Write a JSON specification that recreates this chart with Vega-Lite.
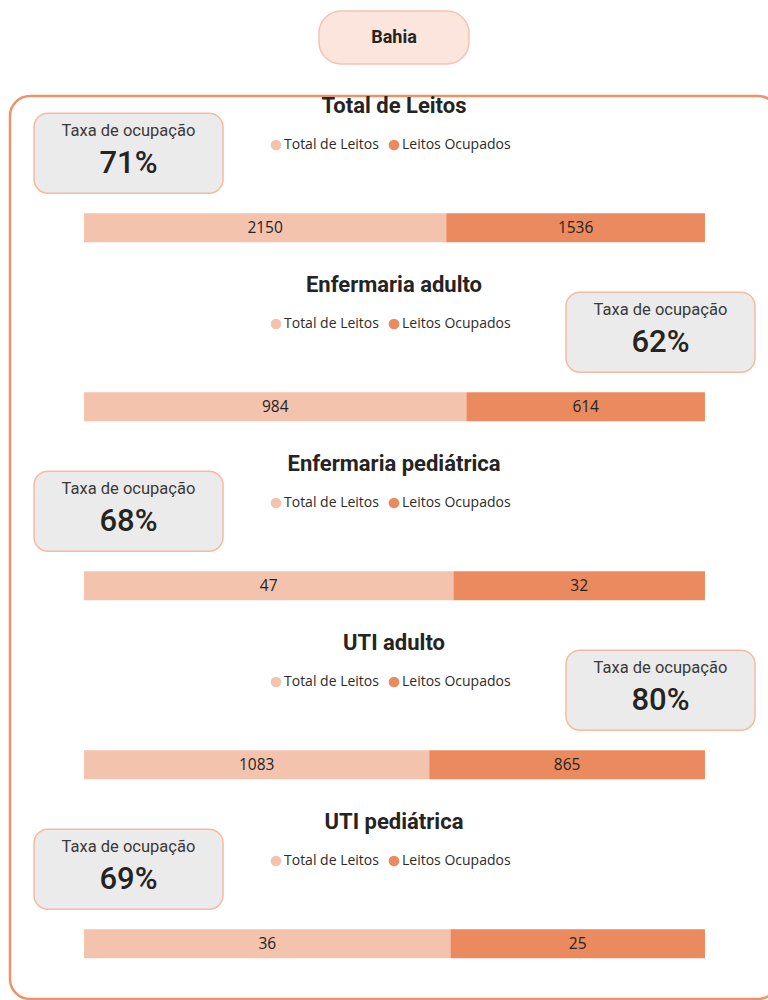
{
  "$schema": "https://vega.github.io/schema/vega-lite/v6.json",
  "padding": {"left": 8, "top": 10, "right": 0, "bottom": 0},
  "background": "white",
  "config": {"font": "Roboto", "view": {"stroke": null}},
  "spacing": 32,
  "center": true,
  "bounds": "flush",
  "datasets": {
    "leitos": [
      {"secao": "Total de Leitos", "serie": "Total de Leitos", "valor": 2150},
      {"secao": "Total de Leitos", "serie": "Leitos Ocupados", "valor": 1536},
      {"secao": "Enfermaria adulto", "serie": "Total de Leitos", "valor": 984},
      {"secao": "Enfermaria adulto", "serie": "Leitos Ocupados", "valor": 614},
      {"secao": "Enfermaria pediátrica", "serie": "Total de Leitos", "valor": 47},
      {"secao": "Enfermaria pediátrica", "serie": "Leitos Ocupados", "valor": 32},
      {"secao": "UTI adulto", "serie": "Total de Leitos", "valor": 1083},
      {"secao": "UTI adulto", "serie": "Leitos Ocupados", "valor": 865},
      {"secao": "UTI pediátrica", "serie": "Total de Leitos", "valor": 36},
      {"secao": "UTI pediátrica", "serie": "Leitos Ocupados", "valor": 25}
    ],
    "taxas": [
      {"secao": "Total de Leitos", "taxa": "71%", "lado": "esquerda"},
      {"secao": "Enfermaria adulto", "taxa": "62%", "lado": "direita"},
      {"secao": "Enfermaria pediátrica", "taxa": "68%", "lado": "esquerda"},
      {"secao": "UTI adulto", "taxa": "80%", "lado": "direita"},
      {"secao": "UTI pediátrica", "taxa": "69%", "lado": "esquerda"}
    ]
  },
  "vconcat": [
    {
      "width": 150,
      "height": 53,
      "view": {"fill": "#fce5dd", "stroke": "#f5c3ae", "strokeWidth": 1.5, "cornerRadius": 22},
      "data": {"values": [{"estado": "Bahia"}]},
      "mark": {"type": "text", "font": "Roboto", "fontWeight": "bold", "fontSize": 18, "color": "#252423", "baseline": "middle", "align": "center"},
      "encoding": {"text": {"field": "estado", "type": "nominal"}}
    },
    {
      "width": 768,
      "height": 903,
      "view": {"stroke": "#ef9268", "strokeWidth": 2.5, "cornerRadius": 20, "fill": null},
      "resolve": {"scale": {"x": "independent", "y": "independent"}},
      "layer": [
        {
          "data": {"name": "taxas"},
          "mark": {"type": "rect", "fill": "#ebebeb", "stroke": "#f4bba2", "strokeWidth": 1.5, "cornerRadius": 14},
          "encoding": {
            "x": {"field": "lado", "type": "nominal", "axis": null, "scale": {"type": "band", "domain": ["esquerda", "direita"], "paddingInner": 0.6447, "paddingOuter": 0.0442, "align": 0.511}},
            "y": {"field": "secao", "type": "nominal", "axis": null, "scale": {"type": "band", "domain": ["Total de Leitos", "Enfermaria adulto", "Enfermaria pediátrica", "UTI adulto", "UTI pediátrica"], "paddingInner": 0.5531, "paddingOuter": 0.2989, "align": 0.161}}
          }
        },
        {
          "data": {"name": "taxas"},
          "mark": {"type": "text", "text": "Taxa de ocupação", "font": "Roboto", "fontSize": 16.5, "color": "#3b3a39", "baseline": "middle", "align": "center"},
          "encoding": {
            "x": {"field": "lado", "type": "nominal", "axis": null, "scale": {"type": "point", "domain": ["esquerda", "direita"], "padding": 0.2218, "align": 0.502}},
            "y": {"field": "secao", "type": "nominal", "axis": null, "scale": {"type": "point", "domain": ["Total de Leitos", "Enfermaria adulto", "Enfermaria pediátrica", "UTI adulto", "UTI pediátrica"], "padding": 0.5223, "align": 0.188}}
          }
        },
        {
          "data": {"name": "taxas"},
          "mark": {"type": "text", "font": "Roboto", "fontSize": 31, "fontWeight": 500, "color": "#252423", "baseline": "middle", "align": "center"},
          "encoding": {
            "text": {"field": "taxa", "type": "nominal"},
            "x": {"field": "lado", "type": "nominal", "axis": null, "scale": {"type": "point", "domain": ["esquerda", "direita"], "padding": 0.2218, "align": 0.502}},
            "y": {"field": "secao", "type": "nominal", "axis": null, "scale": {"type": "point", "domain": ["Total de Leitos", "Enfermaria adulto", "Enfermaria pediátrica", "UTI adulto", "UTI pediátrica"], "padding": 0.5223, "align": 0.365}}
          }
        },
        {
          "data": {"name": "taxas"},
          "mark": {"type": "text", "font": "Roboto", "fontSize": 22, "fontWeight": "bold", "color": "#252423", "baseline": "middle", "align": "center"},
          "encoding": {
            "text": {"field": "secao", "type": "nominal"},
            "y": {"field": "secao", "type": "nominal", "axis": null, "scale": {"type": "point", "domain": ["Total de Leitos", "Enfermaria adulto", "Enfermaria pediátrica", "UTI adulto", "UTI pediátrica"], "padding": 0.5223, "align": 0.0545}}
          }
        },
        {
          "data": {"name": "leitos"},
          "mark": {"type": "circle", "size": 115, "opacity": 1},
          "encoding": {
            "x": {"field": "serie", "type": "nominal", "axis": null, "scale": {"type": "point", "domain": ["Total de Leitos", "Leitos Ocupados"], "range": [266, 384], "padding": 0}},
            "y": {"field": "secao", "type": "nominal", "axis": null, "scale": {"type": "point", "domain": ["Total de Leitos", "Enfermaria adulto", "Enfermaria pediátrica", "UTI adulto", "UTI pediátrica"], "padding": 0.5223, "align": 0.262}},
            "color": {"field": "serie", "type": "nominal", "legend": null, "scale": {"domain": ["Total de Leitos", "Leitos Ocupados"], "range": ["#f4c3ad", "#eb8a5e"]}}
          }
        },
        {
          "data": {"name": "leitos"},
          "mark": {"type": "text", "font": "Open Sans", "fontSize": 14, "color": "#2b2b2b", "baseline": "middle", "align": "left", "dx": 8},
          "encoding": {
            "text": {"field": "serie", "type": "nominal"},
            "x": {"field": "serie", "type": "nominal", "axis": null, "scale": {"type": "point", "domain": ["Total de Leitos", "Leitos Ocupados"], "range": [266, 384], "padding": 0}},
            "y": {"field": "secao", "type": "nominal", "axis": null, "scale": {"type": "point", "domain": ["Total de Leitos", "Enfermaria adulto", "Enfermaria pediátrica", "UTI adulto", "UTI pediátrica"], "padding": 0.5223, "align": 0.262}}
          }
        },
        {
          "data": {"name": "leitos"},
          "transform": [
            {"stack": "valor", "groupby": ["secao"], "offset": "normalize", "sort": [{"field": "serie", "order": "descending"}], "as": ["ini", "fim"]}
          ],
          "mark": {"type": "rect"},
          "encoding": {
            "x": {"field": "ini", "type": "quantitative", "axis": null, "scale": {"domain": [-0.1192, 1.1176], "nice": false, "zero": false}},
            "x2": {"field": "fim"},
            "y": {"field": "secao", "type": "nominal", "axis": null, "scale": {"type": "band", "domain": ["Total de Leitos", "Enfermaria adulto", "Enfermaria pediátrica", "UTI adulto", "UTI pediátrica"], "paddingInner": 0.838, "paddingOuter": 0.4413, "align": 0.742}},
            "color": {"field": "serie", "type": "nominal", "legend": null, "scale": {"domain": ["Total de Leitos", "Leitos Ocupados"], "range": ["#f4c3ad", "#eb8a5e"]}}
          }
        },
        {
          "data": {"name": "leitos"},
          "transform": [
            {"stack": "valor", "groupby": ["secao"], "offset": "normalize", "sort": [{"field": "serie", "order": "descending"}], "as": ["ini", "fim"]},
            {"fold": ["ini", "fim"], "as": ["ponta", "pos"]}
          ],
          "mark": {"type": "text", "font": "Open Sans", "fontSize": 15.5, "color": "#252423", "baseline": "middle", "align": "center"},
          "encoding": {
            "x": {"field": "pos", "type": "quantitative", "aggregate": "mean", "axis": null, "scale": {"domain": [-0.1192, 1.1176], "nice": false, "zero": false}},
            "y": {"field": "secao", "type": "nominal", "axis": null, "scale": {"type": "point", "domain": ["Total de Leitos", "Enfermaria adulto", "Enfermaria pediátrica", "UTI adulto", "UTI pediátrica"], "padding": 0.5223, "align": 0.705}},
            "text": {"field": "valor", "type": "quantitative", "format": "d"},
            "detail": {"field": "serie", "type": "nominal"}
          }
        }
      ]
    }
  ]
}
